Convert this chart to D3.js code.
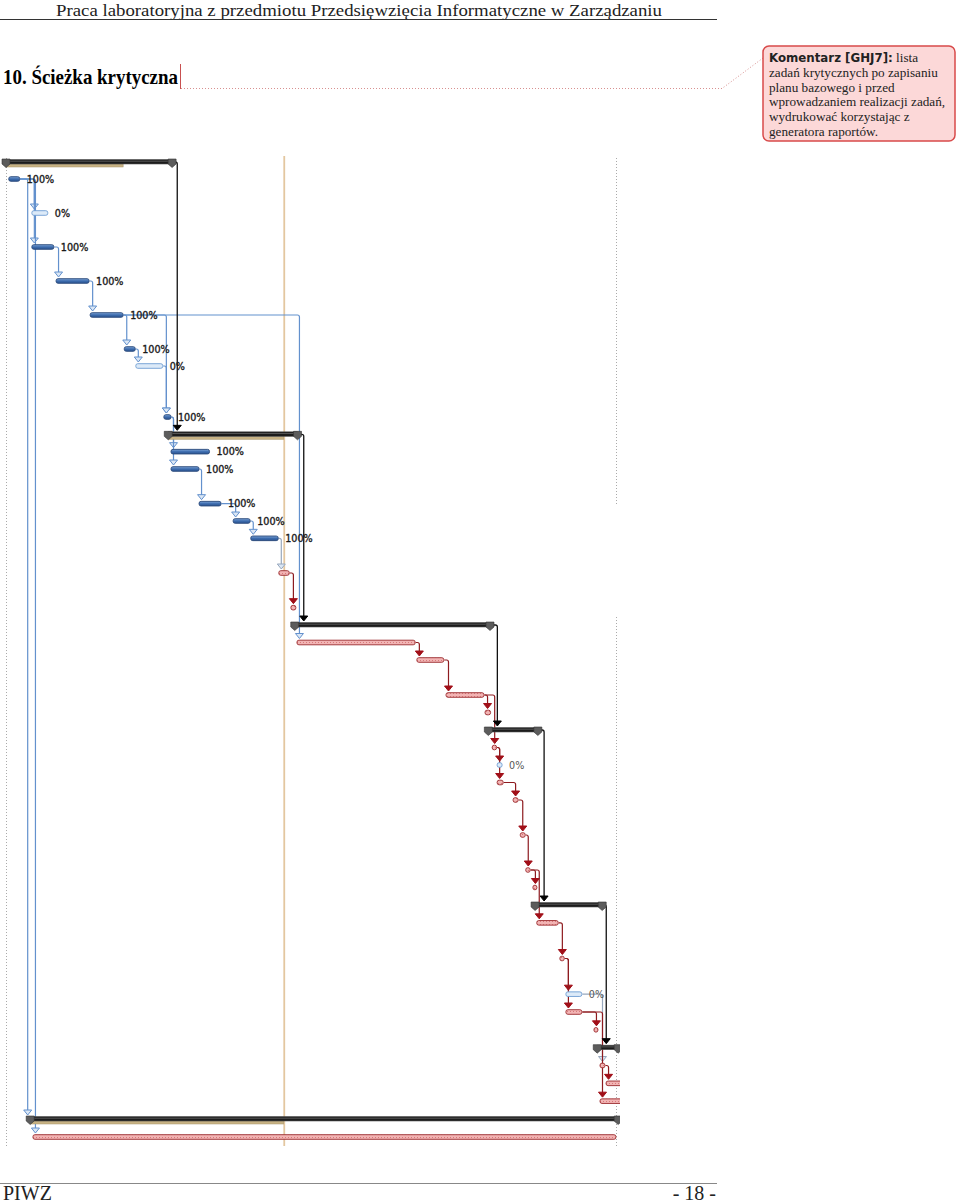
<!DOCTYPE html>
<html><head><meta charset="utf-8">
<script src="https://cdn.jsdelivr.net/npm/d3@7"></script>
<style>body{margin:0;background:#fff}svg{display:block}</style>
</head><body>
<svg id="c" width="960" height="1204"></svg>
<script>
// ---------- texts ----------
const headerText = "Praca laboratoryjna z przedmiotu Przedsięwzięcia Informatyczne w Zarządzaniu";
const sectionTitle = "10. Ścieżka krytyczna";
const commentHead = "Komentarz [GHJ7]:";
const commentLines = [" lista", "zadań krytycznych po zapisaniu", "planu bazowego i przed",
  "wprowadzaniem realizacji zadań,", "wydrukować korzystając z", "generatora raportów."];
const footerLeft = "PIWZ";
const footerRight = "- 18 -";

// ---------- tasks (row index, start day, end day, kind, label) ----------
const taskRows   = [1,3,5,7,9,11,12,15,17,18,20,21,22,24,26,28,29,31,32,34,35,36,37,39,41,42,44,46,48,49,50,52,53,54,56];
const taskStarts = [0.5,4.7,4.7,9.1,15.3,21.5,23.6,28.7,30,30,35.1,41.3,44.5,49.6,51.8,52.9,74.7,80,87.1,88.4,89.3,89.3,92.2,93.5,94.5,95.8,96.5,100.7,101.8,101.8,106.9,108,109.1,108,4.9];
const taskEnds   = [2.5,7.6,8.7,15.1,21.3,23.5,28.5,30,37,35.1,39.1,44.4,49.5,51.5,52.7,74.4,79.6,86.9,88.1,89.2,90.2,90.4,93.1,94.4,95.3,96.5,100.4,101.5,104.7,104.7,107.6,108.9,112,112,110.9];
const taskKinds  = ["done","todo","done","done","done","done","todo","done","done","done","done","done","done","crit","crit","crit","crit","crit","crit","crit","todo","crit","crit","crit","crit","crit","crit","crit","todo","crit","crit","crit","crit","crit","crit"];
const taskLabels = ["100%","0%","100%","100%","100%","100%","0%","100%","100%","100%","100%","100%","100%","","","","","","","","0%","","","","","","","","0%","","","","","",""];

// ---------- summaries ----------
const summaryRows     = [0,16,27,33,43,51,55];
const summaryStarts   = [0,29.5,52.5,87.7,96.2,107.5,4.4];
const summaryEnds     = [30.2,53,88,96.7,108.4,111.3,111.3];
const summaryProgress = [21.3,50.5,null,null,null,null,50.5];

// ---------- links (predecessor row -> successor row) ----------
const linkFrom  = [1,1,1,1,5,7,9,9,9,11,12,15,15,18,20,21,22,48, 24,28,29,31,31,34,34,36,37,39,41,41,44,46,46,49,49,52, 0,16,27,33,43];
const linkTo    = [3,5,55,56,7,9,11,15,28,12,15,17,18,20,21,22,24,52, 26,29,31,32,34,35,36,37,39,41,42,44,46,48,49,50,54,53, 16,27,33,43,51];
const linkKinds = ["b","b","b","b","b","b","b","b","b","b","b","b","b","b","b","b","g","g",
  "r","r","r","r","r","r","r","r","r","r","r","r","r","r","r","r","r","r",
  "s","s","s","s","s"];

const statusDay = 50.5;
const dayDomain = [0, 111];
const rowKnots = [0, 15, 27, 43, 55, 56];

// ---------- drawing ----------
const svg = d3.select("#c");
const x = d3.scaleLinear().domain(dayDomain).range([6, 616.5]);
const y = d3.scaleLinear().domain(rowKnots).range([162, 417, 625, 905, 1119, 1137]);

// header
svg.append("text").attr("x", 56).attr("y", 16)
  .attr("font-family", "Liberation Serif").attr("font-size", 17).attr("fill", "#222")
  .attr("textLength", 606).attr("lengthAdjust", "spacingAndGlyphs").text(headerText);
svg.append("line").attr("x1", 0).attr("x2", 717).attr("y1", 19.5).attr("y2", 19.5).attr("stroke", "#333").attr("stroke-width", 1);

svg.append("text").attr("x", 3).attr("y", 84)
  .attr("font-family", "Liberation Serif").attr("font-weight", "bold").attr("font-size", 21).attr("fill", "#000")
  .attr("textLength", 175).attr("lengthAdjust", "spacingAndGlyphs").text(sectionTitle);
svg.append("line").attr("x1", 180.5).attr("x2", 180.5).attr("y1", 64).attr("y2", 89).attr("stroke", "#c85050").attr("stroke-width", 1);
svg.append("path").attr("d", "M181,88.5 L722,88.5 L763,58").attr("fill", "none")
  .attr("stroke", "#d89090").attr("stroke-width", 1).attr("stroke-dasharray", "1,2");

// comment box
svg.append("rect").attr("x", 763).attr("y", 46).attr("width", 192).attr("height", 95).attr("rx", 6)
  .attr("fill", "#fcd8d8").attr("stroke", "#d84a4a").attr("stroke-width", 1.5);
const ct = svg.append("text").attr("font-family", "Liberation Serif").attr("font-size", 13.2).attr("fill", "#222");
commentLines.forEach((ln, i) => {
  const t = ct.append("tspan").attr("x", 769).attr("y", 62 + i * 14.8);
  if (i === 0) {
    t.append("tspan").attr("font-family", "DejaVu Sans").attr("font-weight", "bold").attr("font-size", 11.8).text(commentHead);
    t.append("tspan").text(ln);
  } else t.text(ln);
});

// footer
svg.append("line").attr("x1", 0).attr("x2", 717).attr("y1", 1183.5).attr("y2", 1183.5).attr("stroke", "#888").attr("stroke-width", 1);
svg.append("text").attr("x", 3).attr("y", 1200).attr("font-family", "Liberation Serif").attr("font-size", 20).attr("fill", "#222").text(footerLeft);
svg.append("text").attr("x", 716).attr("y", 1200).attr("text-anchor", "end").attr("font-family", "Liberation Serif").attr("font-size", 20).attr("fill", "#222").text(footerRight);

// gantt
const defs = svg.append("defs");
defs.append("clipPath").attr("id", "clip").append("rect").attr("x", 0).attr("y", 150).attr("width", 620).attr("height", 1010);
const pat = defs.append("pattern").attr("id", "hatch").attr("width", 3).attr("height", 3).attr("patternUnits", "userSpaceOnUse");
pat.append("rect").attr("width", 3).attr("height", 3).attr("fill", "#f2b4b4");
pat.append("rect").attr("width", 1).attr("height", 1).attr("fill", "#d67a7a");
const gb = defs.append("linearGradient").attr("id", "gdone").attr("x1", 0).attr("x2", 0).attr("y1", 0).attr("y2", 1);
gb.append("stop").attr("offset", "0").attr("stop-color", "#7ea6d8");
gb.append("stop").attr("offset", "0.5").attr("stop-color", "#3d6cae");
gb.append("stop").attr("offset", "1").attr("stop-color", "#2c5490");

const g = svg.append("g").attr("clip-path", "url(#clip)");

// grid / status lines
const firstY = 158, lastY = 1146;
g.append("line").attr("x1", 6.5).attr("x2", 6.5).attr("y1", firstY).attr("y2", lastY)
  .attr("stroke", "#aaa").attr("stroke-dasharray", "1,2");
g.append("line").attr("x1", 616.5).attr("x2", 616.5).attr("y1", firstY).attr("y2", 504)
  .attr("stroke", "#aaa").attr("stroke-dasharray", "1,2");
g.append("line").attr("x1", 616.5).attr("x2", 616.5).attr("y1", 617).attr("y2", lastY)
  .attr("stroke", "#aaa").attr("stroke-dasharray", "1,2");
g.append("line").attr("x1", x(statusDay) + 0.5).attr("x2", x(statusDay) + 0.5).attr("y1", 156).attr("y2", lastY)
  .attr("stroke", "#e3c7a0").attr("stroke-width", 1.8);

// links
const tasks = taskRows.map((r, i) => ({row: r, s: taskStarts[i], e: taskEnds[i], kind: taskKinds[i], label: taskLabels[i]}));
const sums = summaryRows.map((r, i) => ({row: r, s: summaryStarts[i], e: summaryEnds[i], p: summaryProgress[i]}));
const byRow = {};
tasks.forEach(t => byRow[t.row] = t);
sums.forEach(s => byRow[s.row] = Object.assign({summary: true}, s));
const linkColor = {b: "#6391cd", g: "#98a8bd", r: "#8e1b1f", s: "#111"};
const arrowFill = {b: "#6391cd", g: "#98a8bd", r: "#a10f18", s: "#000"};

linkFrom.forEach((f, i) => {
  const a = byRow[f], b = byRow[linkTo[i]], k = linkKinds[i];
  const x0 = x(a.e) + (a.summary ? 3 : 0.5);
  const ax = b.summary && k !== "s" ? x(b.s) - 2.5 : x(b.s) + (k === "s" ? 9 : 2.5);
  const y0 = y(a.row), y1 = y(b.row) - 4;
  const r = 2;
  const d = `M${x0},${y0} L${ax - r},${y0} Q${ax},${y0} ${ax},${y0 + r} L${ax},${y1 - 4}`;
  g.append("path").attr("d", d).attr("fill", "none").attr("stroke", linkColor[k]).attr("stroke-width", k === "s" ? 1.3 : 1.2);
  const tri = `M${ax - 4},${y1 - 5} L${ax + 4},${y1 - 5} L${ax},${y1} Z`;
  const isOpen = (k === "b" || k === "g");
  g.append("path").attr("d", tri).attr("fill", isOpen ? "#dbe7f5" : arrowFill[k])
    .attr("stroke", arrowFill[k]).attr("stroke-width", 1);
});

// summaries
sums.forEach(s => {
  const yy = y(s.row), x0 = x(s.s), x1 = x(s.e);
  if (s.p != null) {
    g.append("rect").attr("x", x0).attr("y", yy + 2).attr("width", x(s.p) - x0).attr("height", 3)
      .attr("fill", "#c7b284").attr("stroke", "#a8956a").attr("stroke-width", 0.5);
  }
  g.append("rect").attr("x", x0).attr("y", yy - 2.5).attr("width", x1 - x0).attr("height", 4.5)
    .attr("fill", "#1c1c1c").attr("stroke", "#555").attr("stroke-width", 0.6);
  g.append("line").attr("x1", x0 + 2).attr("x2", x1 - 2).attr("y1", yy - 0.8).attr("y2", yy - 0.8)
    .attr("stroke", "#666").attr("stroke-width", 0.8);
  [x0, x1].forEach(cx => {
    g.append("path").attr("d", `M${cx - 4},${yy - 3} L${cx + 4},${yy - 3} L${cx + 4},${yy + 2} L${cx},${yy + 5.5} L${cx - 4},${yy + 2} Z`)
      .attr("fill", "#5c5c5c").attr("stroke", "#333").attr("stroke-width", 0.6);
  });
});

// tasks
const fills = {done: "url(#gdone)", todo: "#dceaf8", crit: "url(#hatch)"};
const strokes = {done: "#2a4a7a", todo: "#6e9dd3", crit: "#9b2a2e"};
tasks.forEach(t => {
  const yy = y(t.row), x0 = x(t.s), w = Math.max(x(t.e) - x0, 4);
  g.append("rect").attr("x", x0).attr("y", yy - 2.3).attr("width", w).attr("height", 4.6).attr("rx", 2)
    .attr("fill", fills[t.kind]).attr("stroke", strokes[t.kind]).attr("stroke-width", 0.9);
  if (t.label) {
    g.append("text").attr("x", x(t.e) + 7).attr("y", yy + 3.6)
      .attr("font-family", "DejaVu Sans").attr("font-size", 9.6)
      .attr("fill", t.row > 30 ? "#555" : "#1a1a1a")
      .attr("stroke", t.row > 30 ? "none" : "#1a1a1a").attr("stroke-width", 0.35)
      .text(t.label);
  }
});
</script>
</body></html>
